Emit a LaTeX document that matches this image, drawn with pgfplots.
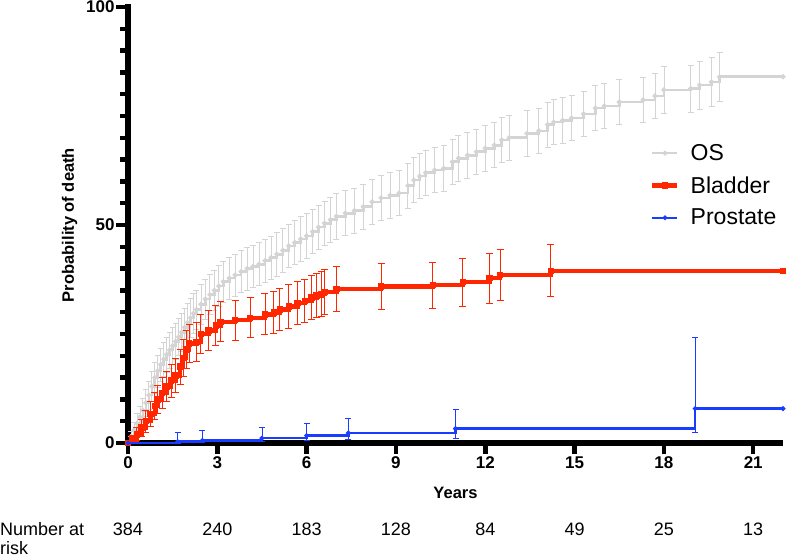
\documentclass[border=0pt]{standalone}
\usepackage{fontspec}
\setmainfont{Liberation Sans}
\usepackage{pgfplots}
\pgfplotsset{compat=1.18}
\usepackage{pgfplotstable}

\definecolor{osgray}{RGB}{212,212,212}
\definecolor{bladred}{RGB}{255,38,0}
\definecolor{prosblue}{RGB}{25,60,255}

% Overall survival: time (years), cumulative probability of death (%), 95% CI half-width
\pgfplotstableread{
t v e
0 0 0
0.1 1.5 1.2
0.2 3 1.8
0.3 4.5 2.2
0.4 6 2.5
0.5 7.5 2.8
0.6 9.2 3
0.7 11 3.2
0.8 13 3.4
0.9 15 3.6
1.0 16.5 3.7
1.1 18 3.8
1.2 19.2 3.9
1.3 20.3 4
1.4 21.3 4.1
1.5 22.3 4.2
1.6 23.3 4.2
1.7 24.3 4.3
1.8 25.4 4.3
1.9 26.5 4.4
2.0 27.6 4.4
2.1 28.7 4.5
2.2 29.7 4.5
2.3 30.6 4.5
2.45 31.8 4.6
2.6 33 4.6
2.75 34 4.6
2.9 35 4.7
3.05 36 4.7
3.2 37 4.7
3.4 37.8 4.8
3.6 38.5 4.8
3.8 39.3 4.8
4.0 40 4.9
4.2 40.5 4.9
4.4 41 4.9
4.6 41.8 5
4.8 42.5 5
5.0 43.3 5
5.2 44.2 5
5.4 45.2 5
5.6 46 5
5.8 46.8 5.1
6.0 47.5 5.1
6.2 48.5 5.1
6.4 49.5 5.1
6.6 50.4 5.1
6.8 51.2 5.1
7.0 52 5.2
7.3 52.7 5.2
7.6 53.3 5.2
7.9 54.2 5.2
8.2 55.3 5.2
8.5 56.2 5.2
8.8 56.8 5.2
9.1 57.3 5.2
9.4 59 5.2
9.6 60.3 5.2
9.8 61.2 5.2
10.0 62 5.2
10.3 62.6 5.2
10.6 63 5.2
10.9 64.5 5.2
11.1 65.3 5.2
11.4 66 5.2
11.7 66.8 5.2
12.0 67.6 5.2
12.3 68.3 5.2
12.55 69.5 5.2
12.8 70 5.2
13.4 71 5.2
13.8 71.6 5.2
14.1 73 5.2
14.3 73.6 5.2
14.6 74 5.2
14.9 74.5 5.2
15.3 75.5 5.2
15.7 76.8 5.2
16.0 77.3 5.2
16.5 78.2 5.2
17.3 78.7 5.2
17.7 79.6 5.2
18.0 81 5.3
18.9 81.3 5.4
19.2 82.1 5.5
19.6 82.8 5.6
19.87 84 5.6
22 84 0
}\ostable

% Bladder cancer death
\pgfplotstableread{
t v e
0 0 0
0.15 0.8 1
0.3 2 1.5
0.45 3.5 2
0.6 5 2.5
0.75 6.7 2.8
0.9 8.5 3
1.0 10 3.3
1.15 11.5 3.5
1.3 13 3.5
1.45 14.3 3.8
1.6 15.5 4
1.75 17.5 4
1.85 19.5 4.2
1.95 21.5 4.3
2.05 22.8 4.4
2.3 23.2 4.4
2.45 25 4.5
2.7 25.8 4.5
2.95 27 4.6
3.1 27.8 4.6
3.6 28.2 4.6
4.1 28.7 4.6
4.6 29.5 4.7
4.9 29.9 4.8
5.1 30.6 4.9
5.4 31.3 5
5.7 32.1 5
5.94 32.6 5
6.16 33.4 5.1
6.33 33.8 5.1
6.5 34.2 5.1
6.6 34.6 5.2
7.0 35.3 5.2
8.5 35.9 5.3
10.24 36.2 5.3
11.25 36.9 5.5
12.15 37.8 5.7
12.5 38.5 5.8
14.2 39.5 6
22 39.5 0
}\bladtable

% Prostate cancer death, asymmetric interval
\pgfplotstableread{
t v up dn
0 0 0 0
1.67 0.3 2.1 0.3
2.5 0.6 2.2 0.5
4.5 1.1 2.5 0.8
6.0 1.7 2.8 1.2
7.4 2.3 3.4 1.4
11.0 3.3 4.5 2.2
19.05 7.9 16.2 5.5
22 7.9 0 0
}\prostable

\begin{document}
\begin{tikzpicture}
\useasboundingbox (-128pt,-114pt) rectangle (659pt,443pt);

% heavy axis frame and ticks, laid down first so the curves sit on top
% (axis box: 655pt wide for 22 years, 436pt high for 100 %)
\draw[black, line width=6pt, line cap=butt] (0pt,439pt) -- (0pt,0pt) -- (655pt,0pt);
\foreach \t in {0,3,6,9,12,15,18,21}
  \draw[black, line width=4.5pt] ({\t*29.7727pt},0pt) -- ++(0pt,-11pt);
\foreach \v in {0,50,100}
  \draw[black, line width=4.5pt] (0pt,{\v*4.36pt}) -- ++(-12pt,0pt);
\foreach \v in {5,10,15,20,25,30,35,40,45,55,60,65,70,75,80,85,90,95}
  \draw[black, line width=4.5pt] (0pt,{\v*4.36pt}) -- ++(-8.5pt,0pt);

\begin{axis}[
  at={(0pt,0pt)}, anchor=south west,
  scale only axis, width=655pt, height=436pt,
  xmin=0, xmax=22, ymin=0, ymax=100,
  axis x line=bottom, axis y line=left,
  axis line style={-, line width=3.8pt, black},
  tick align=outside,
  xtick={0,3,6,9,12,15,18,21}, ytick={0,50,100}, minor y tick num=9,
  major tick length=10pt, minor tick length=7pt,
  tick style={black, line width=3pt},
  /pgf/number format/assume math mode=true,
  ticklabel style={font=\bfseries\fontsize{17}{17}\selectfont},
  xlabel={Years}, ylabel={Probability of death},
  label style={font=\bfseries\fontsize{16.5}{16.5}\selectfont},
  xlabel style={yshift=-12pt},
  ylabel style={yshift=2pt},
  clip mode=individual,
  legend style={at={(0.797,0.690)}, anchor=north west, draw=none, fill=none,
    font=\fontsize{23}{23}\selectfont, row sep=10.5pt, inner sep=0pt,
    cells={anchor=west},
    /tikz/every odd column/.append style={column sep=9pt}},
  legend image code/.code={\draw[mark repeat=2, mark phase=2, #1]
    plot coordinates {(0pt,0pt) (12.5pt,0pt) (25pt,0pt)};},
]
\addplot[const plot, color=osgray, line width=2.6pt, mark=*, mark size=1pt,
  error bars/.cd, y dir=both, y explicit,
  error bar style={line width=0.8pt, osgray},
  error mark options={rotate=90, mark size=3pt, line width=0.8pt, osgray}]
  table[x=t, y=v, y error=e] {\ostable};
\addlegendentry{OS}
\addplot[const plot, color=bladred, line width=4.5pt, mark=square*, mark size=1pt,
  error bars/.cd, y dir=both, y explicit,
  error bar style={line width=0.9pt, bladred},
  error mark options={rotate=90, mark size=3.5pt, line width=0.9pt, bladred}]
  table[x=t, y=v, y error=e] {\bladtable};
\addlegendentry{Bladder}
\addplot[const plot, color=prosblue, line width=2.4pt, mark=*, mark size=1pt,
  error bars/.cd, y dir=both, y explicit,
  error bar style={line width=0.9pt, prosblue},
  error mark options={rotate=90, mark size=3pt, line width=0.9pt, prosblue}]
  table[x=t, y=v, y error plus=up, y error minus=dn] {\prostable};
\addlegendentry{Prostate}

% number at risk
\node[font=\fontsize{18}{18}\selectfont, anchor=base] at ([yshift=-92pt]axis cs:0,0) {384};
\node[font=\fontsize{18}{18}\selectfont, anchor=base] at ([yshift=-92pt]axis cs:3,0) {240};
\node[font=\fontsize{18}{18}\selectfont, anchor=base] at ([yshift=-92pt]axis cs:6,0) {183};
\node[font=\fontsize{18}{18}\selectfont, anchor=base] at ([yshift=-92pt]axis cs:9,0) {128};
\node[font=\fontsize{18}{18}\selectfont, anchor=base] at ([yshift=-92pt]axis cs:12,0) {84};
\node[font=\fontsize{18}{18}\selectfont, anchor=base] at ([yshift=-92pt]axis cs:15,0) {49};
\node[font=\fontsize{18}{18}\selectfont, anchor=base] at ([yshift=-92pt]axis cs:18,0) {25};
\node[font=\fontsize{18}{18}\selectfont, anchor=base] at ([yshift=-92pt]axis cs:21,0) {13};
\node[font=\fontsize{18}{18}\selectfont, anchor=base west, inner sep=0pt]
  at ([xshift=-128pt, yshift=-92pt]axis cs:0,0) {Number at};
\node[font=\fontsize{18}{18}\selectfont, anchor=base west, inner sep=0pt]
  at ([xshift=-128pt, yshift=-111pt]axis cs:0,0) {risk};
\end{axis}
\end{tikzpicture}
\end{document}
